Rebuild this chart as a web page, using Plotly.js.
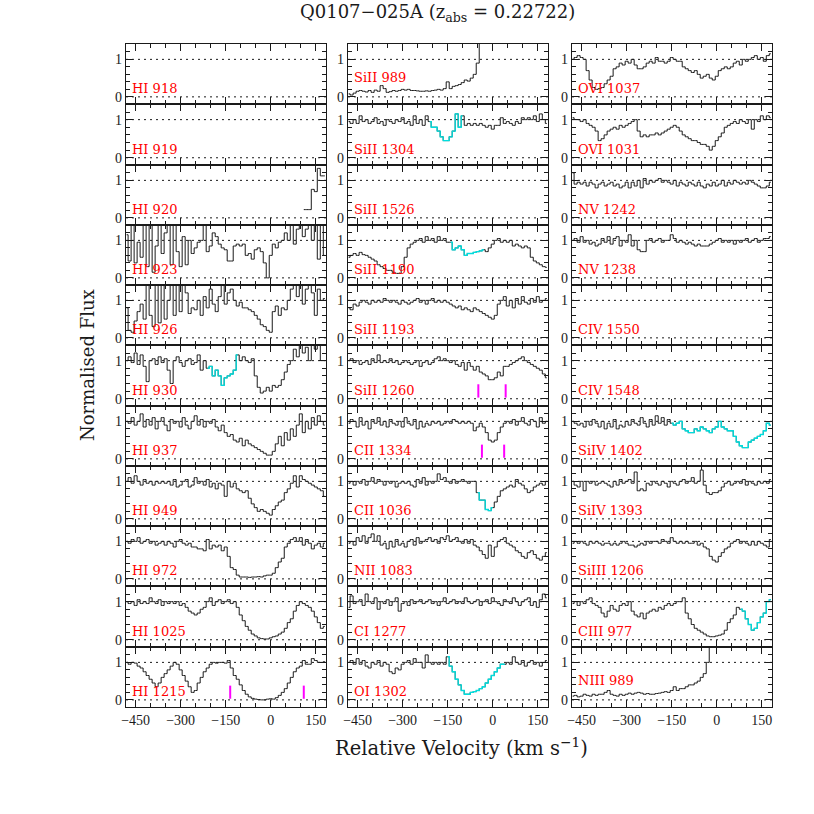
<!DOCTYPE html>
<html>
<head>
<meta charset="utf-8">
<script src="https://cdn.plot.ly/plotly-3.0.1.min.js"></script>
<style>body{margin:0;background:#fff}</style>
</head>
<body>
<div id="plot" style="width:814px;height:814px"></div>
<script>
// velocity bins (km/s) shared by every panel
var vel = [-480, -470, -460, -450, -440, -430, -420, -410, -400, -390,
           -380, -370, -360, -350, -340, -330, -320, -310, -300, -290,
           -280, -270, -260, -250, -240, -230, -220, -210, -200, -190,
           -180, -170, -160, -150, -140, -130, -120, -110, -100, -90,
           -80, -70, -60, -50, -40, -30, -20, -10, 0, 10,
           20, 30, 40, 50, 60, 70, 80, 90, 100, 110,
           120, 130, 140, 150, 160, 170, 180];

// HI 920 only has flux at the red end
var velHI920 = [110, 120, 130, 140, 150, 160, 170, 180];
var fHI920 = [0.22, 0.22, 0.22, 0.76, 0.7, 1.32, 1.12, 1.12];

var fHI923 = [1.15, 0.45, 1.5, 0.4, 0.95, 0.55, 1.5, 0.3, 1.5, 0.15,
              0.85, 1.5, 0.65, 1.2, 1.5, 0.35, 1.5, 0.7, 0.3, 1.1,
              0.35, 1.0, 0.65, 0.8, 0.95, 1.0, 1.5, 0.7, 0.85, 1.2,
              1.1, 0.9, 0.8, 0.75, 0.45, 0.45, 0.85, 0.9, 0.85, 0.9,
              0.6, 0.65, 0.5, 0.75, 0.8, 0.7, 0.4, 0.0, 0.6, 0.9,
              0.8, 0.95, 1.0, 1.2, 1.0, 1.4, 0.9, 1.3, 1.5, 1.1,
              1.3, 1.5, 1.0, 1.4, 0.5, 1.5, 0.6];
var fHI926 = [0.8, 0.2, 0.15, 0.45, 0.7, 0.9, 0.5, 1.5, 0.6, 0.3,
              1.5, 0.4, 1.5, 0.5, 1.0, 1.5, 0.6, 1.5, 0.7, 1.5,
              1.2, 0.65, 0.8, 0.75, 1.0, 0.6, 1.1, 0.8, 1.3, 0.9,
              0.7, 1.1, 1.4, 0.9, 1.2, 1.3, 1.0, 0.85, 0.95, 0.8,
              0.8, 0.75, 0.7, 0.6, 0.5, 0.35, 0.3, 0.2, 0.15, 0.7,
              0.85, 0.6, 0.8, 0.75, 1.0, 1.3, 1.5, 1.1, 1.4, 0.9,
              1.3, 1.5, 1.2, 0.6, 1.3, 1.0, 1.05];
var fHI930 = [1.0, 1.1, 0.95, 1.2, 0.9, 1.15, 0.85, 0.45, 1.0, 1.05,
              0.9, 1.1, 0.95, 1.05, 0.75, 0.4, 1.0, 1.1, 0.95, 0.85,
              1.0, 1.05, 0.9, 0.95, 1.15, 0.75, 1.0, 0.8, 0.85, 0.6,
              0.75, 0.6, 0.35, 0.55, 0.6, 0.65, 0.75, 1.15, 1.0, 1.1,
              1.0, 0.95, 1.05, 0.6, 0.3, 0.15, 0.2, 0.3, 0.2, 0.35,
              0.3, 0.35, 0.5, 0.7, 0.9, 1.0, 1.3, 1.1, 1.4, 1.2,
              1.35, 1.0, 1.4, 1.3, 1.4, 1.0, 1.0];
var fHI937 = [1.0, 0.95, 1.1, 0.9, 1.0, 1.2, 0.85, 1.05, 0.9, 1.1,
              0.8, 1.0, 1.1, 0.9, 0.75, 1.05, 0.95, 1.0, 0.85, 1.1,
              0.9, 0.8, 1.0, 1.15, 0.9, 1.05, 0.85, 1.0, 0.95, 1.05,
              0.85, 0.75, 0.9, 0.7, 0.6, 0.65, 0.5, 0.45, 0.55, 0.35,
              0.5, 0.4, 0.35, 0.3, 0.25, 0.2, 0.15, 0.1, 0.1, 0.2,
              0.4, 0.6, 0.35, 0.7, 0.5, 0.8, 0.6, 0.9, 1.2, 0.7,
              1.0, 0.8, 1.1, 0.9, 1.15, 1.0, 0.9];
var fHI949 = [1.0, 1.1, 0.95, 1.15, 1.0, 0.9, 1.05, 0.95, 1.0, 0.9,
              1.0, 0.95, 1.0, 0.95, 1.0, 0.9, 1.05, 0.85, 0.9, 1.0,
              1.05, 0.85, 0.9, 1.1, 0.95, 1.0, 0.9, 1.05, 0.85, 0.95,
              0.8, 0.95, 0.9, 0.6, 1.0, 0.85, 0.95, 0.8, 0.75, 0.7,
              0.75, 0.55, 0.4, 0.3, 0.2, 0.25, 0.2, 0.15, 0.1, 0.25,
              0.35, 0.45, 0.5, 0.7, 0.8, 0.95, 1.15, 0.85, 1.15, 1.05,
              1.0, 0.95, 0.9, 0.85, 0.8, 0.75, 0.6];
var fHI972 = [1.0, 0.95, 1.05, 1.0, 1.1, 0.95, 1.0, 1.05, 0.95, 1.0,
              0.9, 0.95, 1.0, 0.9, 1.0, 0.95, 0.85, 1.0, 1.05, 0.95,
              0.9, 0.95, 0.85, 0.85, 0.8, 0.8, 0.75, 1.05, 0.8, 0.9,
              0.85, 0.9, 0.75, 0.85, 0.6, 0.3, 0.25, 0.1, 0.05, 0.05,
              0.05, 0.04, 0.05, 0.05, 0.06, 0.05, 0.08, 0.1, 0.1, 0.15,
              0.3, 0.45, 0.55, 0.85, 0.95, 1.05, 1.1, 1.0, 1.1, 0.9,
              1.05, 0.95, 0.8, 0.9, 0.95, 0.85, 0.95];
var fHI1025 = [1.0, 0.95, 1.0, 0.9, 1.05, 0.95, 1.0, 0.95, 1.1, 1.0,
               0.95, 1.05, 0.9, 1.0, 0.95, 1.0, 0.95, 1.0, 0.9, 0.95,
               0.85, 0.75, 0.7, 0.65, 0.7, 0.8, 0.85, 1.0, 1.1, 0.9,
               1.0, 1.05, 0.95, 1.0, 1.05, 0.95, 1.0, 0.85, 0.65, 0.5,
               0.35, 0.25, 0.15, 0.1, 0.05, 0.03, 0.02, 0.02, 0.05, 0.08,
               0.1, 0.15, 0.2, 0.3, 0.45, 0.55, 0.75, 0.9, 1.0, 0.95,
               0.9, 0.85, 0.75, 0.6, 0.45, 0.3, 0.35];
var fHI1215 = [1.0, 0.95, 1.0, 0.98, 0.9, 0.85, 0.75, 0.65, 0.55, 0.45,
               0.35, 0.45, 0.6, 0.7, 0.8, 0.9, 1.0, 0.95, 0.8, 0.65,
               0.5, 0.35, 0.2, 0.25, 0.45, 0.6, 0.75, 0.85, 0.95, 1.0,
               0.98, 1.0, 1.0, 0.98, 1.05, 0.85, 0.65, 0.55, 0.4, 0.25,
               0.15, 0.08, 0.04, 0.02, 0.01, 0.0, 0.0, 0.02, 0.03, 0.02,
               0.06, 0.12, 0.2, 0.3, 0.45, 0.6, 0.75, 0.85, 0.9, 1.05,
               0.95, 0.95, 1.1, 1.05, 1.0, 1.0, 1.02];

var fSiII989 = [0.08, 0.05, 0.1, 0.15, 0.17, 0.15, 0.13, 0.17, 0.12, 0.18,
                0.15, 0.3, 0.22, 0.12, 0.14, 0.17, 0.15, 0.17, 0.2, 0.18,
                0.2, 0.17, 0.17, 0.16, 0.15, 0.15, 0.16, 0.15, 0.17, 0.18,
                0.2, 0.18, 0.22, 0.4, 0.22, 0.28, 0.3, 0.33, 0.38, 0.45,
                0.42, 0.5, 0.6, 0.9, 3, 3, 3, 3, 3, 3,
                3, 3, 3, 3, 3, 3, 3, 3, 3, 3,
                3, 3, 3, 3, 3, 3, 3];
var fSiII1304 = [0.95, 0.9, 1.0, 0.9, 1.1, 0.95, 1.0, 0.9, 0.95, 1.05,
                 0.9, 0.95, 0.85, 1.0, 0.95, 0.9, 1.0, 0.95, 1.05, 0.9,
                 0.95, 0.85, 1.1, 0.9, 1.0, 0.85, 1.1, 0.95, 0.8, 0.8,
                 0.7, 0.55, 0.45, 0.45, 0.55, 0.7, 1.15, 0.8, 1.1, 0.85,
                 0.9, 0.85, 0.9, 0.85, 0.9, 0.85, 0.8, 0.85, 0.75, 0.85,
                 0.85, 1.05, 0.9, 0.95, 0.9, 0.85, 0.95, 0.9, 1.05, 1.0,
                 1.05, 1.0, 1.1, 0.95, 1.15, 1.0, 0.9];
var fSiII1190 = [0.55, 0.6, 0.65, 0.6, 0.68, 0.62, 0.6, 0.55, 0.5, 0.45,
                 0.35, 0.3, 0.25, 0.2, 0.2, 0.15, 0.12, 0.12, 0.3, 0.55,
                 0.8, 0.9, 0.95, 1.0, 1.05, 0.95, 1.1, 1.0, 1.05, 0.95,
                 1.1, 1.0, 1.05, 0.95, 0.95, 0.75, 0.8, 0.85, 0.75, 0.6,
                 0.65, 0.65, 0.68, 0.7, 0.72, 0.75, 0.7, 0.8, 0.9, 1.0,
                 1.05, 0.95, 1.0, 0.95, 1.0, 0.85, 0.9, 0.85, 0.8, 0.85,
                 0.8, 0.55, 0.45, 0.4, 0.35, 0.3, 0.28];
var fSiII1193 = [0.8, 0.75, 0.9, 0.85, 0.95, 1.0, 0.95, 0.9, 1.0, 0.95,
                 1.0, 0.95, 1.05, 1.0, 0.95, 1.0, 0.95, 0.9, 1.0, 0.95,
                 0.9, 0.95, 1.0, 1.05, 0.95, 1.0, 0.9, 1.0, 1.05, 0.95,
                 1.0, 0.95, 1.0, 0.95, 0.9, 0.85, 0.8, 0.85, 0.75, 0.8,
                 0.75, 0.7, 0.8, 0.75, 0.7, 0.65, 0.6, 0.55, 0.5, 0.6,
                 0.9, 1.0, 1.1, 0.85, 1.0, 0.8, 1.05, 0.9, 1.1, 0.95,
                 0.9, 1.05, 0.95, 1.1, 0.95, 1.0, 1.05];
var fSiII1260 = [1.0, 1.05, 0.95, 1.0, 0.9, 0.95, 1.0, 0.9, 1.05, 0.95,
                 1.15, 0.95, 1.0, 0.95, 1.05, 0.95, 1.0, 0.9, 0.95, 1.0,
                 0.95, 0.9, 0.95, 1.0, 0.85, 0.95, 1.0, 0.9, 0.95, 1.05,
                 1.1, 1.0, 1.05, 1.0, 0.95, 1.0, 0.9, 0.85, 0.95, 0.75,
                 0.95, 0.85, 0.75, 0.85, 0.7, 0.65, 0.6, 0.5, 0.5, 0.55,
                 0.7, 0.6, 0.85, 0.85, 0.9, 0.95, 1.0, 1.05, 1.1, 1.0,
                 0.95, 0.9, 0.85, 0.8, 0.75, 0.65, 0.55];
var fCII1334 = [0.95, 1.05, 1.0, 0.85, 1.1, 0.9, 1.0, 0.8, 1.05, 0.95,
                1.1, 0.9, 1.0, 0.85, 1.05, 0.95, 0.9, 1.0, 0.85, 1.1,
                0.95, 0.9, 1.05, 0.8, 1.0, 0.85, 0.95, 0.9, 1.0, 0.95,
                1.0, 0.9, 0.95, 1.0, 0.95, 1.05, 1.0, 0.95, 1.0, 0.95,
                1.0, 0.95, 0.75, 0.85, 0.95, 0.85, 0.7, 0.5, 0.45, 0.5,
                0.7, 0.85, 0.95, 1.0, 0.95, 1.05, 0.9, 1.0, 1.1, 0.95,
                0.9, 1.05, 1.0, 0.85, 1.1, 0.95, 1.0];
var fCII1036 = [0.95, 1.0, 0.9, 1.0, 0.95, 1.05, 0.9, 1.0, 1.1, 0.95,
                1.05, 1.0, 0.9, 1.0, 0.95, 1.0, 0.85, 0.95, 1.0, 0.95,
                1.0, 0.9, 0.85, 1.05, 0.95, 1.1, 0.9, 1.0, 0.95, 1.0,
                1.2, 1.05, 1.1, 1.0, 0.95, 1.05, 0.95, 1.0, 1.05, 1.0,
                0.95, 1.0, 1.0, 0.7, 0.5, 0.5, 0.25, 0.22, 0.3, 0.45,
                0.6, 0.75, 0.8, 0.85, 0.9, 0.85, 1.05, 0.95, 0.9, 0.8,
                0.7, 0.75, 0.85, 0.9, 0.95, 0.9, 1.0];
var fNII1083 = [0.95, 1.0, 0.9, 1.1, 1.0, 1.15, 0.95, 1.1, 1.2, 1.0,
                1.15, 0.9, 0.95, 0.8, 1.0, 0.85, 1.05, 0.9, 0.95, 0.85,
                1.0, 1.05, 0.9, 1.1, 0.95, 1.0, 1.05, 1.1, 1.0, 1.05,
                0.95, 1.1, 1.05, 1.15, 1.0, 1.05, 1.1, 1.0, 0.95, 1.05,
                0.95, 1.05, 0.9, 0.85, 0.75, 0.65, 0.55, 0.9, 0.6, 0.85,
                1.0, 1.05, 1.1, 0.95, 0.9, 0.85, 0.75, 0.7, 0.6, 0.55,
                0.7, 0.75, 0.65, 0.55, 0.5, 0.6, 0.7];
var fCI1277 = [0.85, 1.15, 0.95, 1.0, 1.05, 0.9, 1.2, 1.0, 0.95, 1.1,
               0.8, 1.0, 0.95, 1.05, 0.9, 1.0, 1.1, 0.75, 0.95, 1.0,
               0.9, 1.05, 0.95, 1.0, 1.05, 0.95, 1.0, 1.05, 0.95, 1.0,
               0.9, 1.0, 1.1, 0.95, 1.0, 1.05, 0.95, 1.0, 0.95, 1.1,
               1.0, 0.95, 1.0, 1.05, 0.9, 1.0, 1.05, 0.95, 1.1, 1.0,
               0.95, 0.9, 1.05, 1.0, 0.95, 1.1, 1.0, 0.9, 1.0, 1.05,
               1.1, 0.9, 1.0, 0.85, 1.05, 1.2, 1.1];
var fOI1302 = [1.0, 1.05, 0.95, 1.1, 0.95, 1.05, 0.9, 0.85, 1.0, 0.95,
               1.05, 0.9, 1.0, 0.95, 0.75, 0.7, 0.85, 0.8, 0.95, 1.0,
               1.05, 0.95, 1.1, 1.0, 1.0, 0.85, 1.2, 1.0, 0.95, 1.0,
               0.95, 1.0, 0.95, 1.15, 0.9, 0.75, 0.55, 0.4, 0.25, 0.15,
               0.15, 0.2, 0.22, 0.25, 0.3, 0.35, 0.45, 0.55, 0.65, 0.75,
               0.85, 0.95, 0.95, 1.0, 0.95, 1.15, 1.0, 0.95, 1.05, 0.9,
               1.0, 1.05, 0.95, 1.0, 0.9, 1.0, 1.05];

var fOVI1037 = [1.0, 1.05, 1.1, 1.05, 1.0, 0.7, 0.45, 0.25, 0.2, 0.22,
                0.25, 0.35, 0.45, 0.55, 0.75, 0.8, 0.9, 0.85, 0.95, 0.9,
                1.0, 0.85, 0.75, 0.75, 0.8, 0.9, 0.95, 0.9, 1.05, 0.95,
                0.95, 0.9, 0.95, 1.05, 1.0, 0.95, 0.95, 0.8, 0.75, 0.7,
                0.65, 0.7, 0.6, 0.5, 0.55, 0.6, 0.5, 0.45, 0.55, 0.7,
                0.75, 0.8, 0.75, 0.8, 0.9, 0.95, 0.85, 1.0, 0.95, 1.0,
                1.05, 1.1, 1.0, 1.05, 0.95, 1.1, 1.15];
var fOVI1031 = [1.05, 1.0, 1.0, 0.95, 1.0, 0.9, 0.85, 0.8, 0.7, 0.45,
                0.5, 0.6, 0.7, 0.75, 0.8, 0.75, 0.85, 0.8, 0.85, 0.9,
                0.95, 1.0, 0.7, 0.55, 0.6, 0.55, 0.6, 0.6, 0.65, 0.6,
                0.65, 0.7, 0.75, 0.8, 0.85, 0.8, 0.7, 0.6, 0.55, 0.5,
                0.45, 0.45, 0.4, 0.35, 0.35, 0.3, 0.2, 0.3, 0.45, 0.55,
                0.65, 0.8, 0.85, 0.9, 0.95, 0.9, 1.0, 0.95, 0.9, 1.0,
                0.75, 1.0, 0.95, 1.1, 1.0, 1.1, 1.05];
var fNV1242 = [1.2, 0.9, 0.95, 0.9, 0.95, 0.85, 0.95, 0.9, 0.8, 0.9,
               0.95, 0.85, 0.9, 0.95, 0.85, 0.9, 0.8, 0.85, 0.95, 0.8,
               0.95, 0.85, 1.0, 0.8, 1.05, 0.9, 1.0, 0.95, 1.0, 1.05,
               0.95, 1.0, 0.95, 0.9, 1.0, 0.85, 0.95, 0.9, 0.85, 0.95,
               0.9, 0.85, 0.95, 0.85, 0.8, 0.9, 0.85, 0.95, 0.85, 0.9,
               1.0, 0.85, 0.95, 0.9, 1.0, 0.95, 0.9, 0.95, 0.9, 1.0,
               0.95, 0.9, 0.85, 0.8, 0.8, 0.85, 0.95];
var fNV1238 = [1.0, 1.05, 0.95, 1.1, 0.95, 1.0, 0.9, 0.95, 0.85, 0.9,
               1.05, 0.95, 1.1, 0.9, 1.05, 1.1, 0.85, 1.0, 0.95, 1.15,
               0.85, 1.0, 0.75, 0.7, 0.7, 1.0, 1.05, 0.95, 1.0, 1.05,
               0.95, 1.0, 1.0, 1.15, 1.05, 0.95, 1.0, 0.95, 0.9, 0.95,
               0.9, 0.85, 0.9, 0.85, 0.85, 0.85, 0.9, 0.95, 1.0, 1.05,
               0.95, 1.0, 0.95, 1.0, 0.9, 1.0, 0.95, 1.0, 1.05, 0.95,
               1.0, 1.05, 0.95, 1.0, 1.05, 1.05, 1.1];
var fSiIV1402 = [1.0, 0.95, 0.9, 0.95, 0.85, 1.0, 0.9, 1.05, 0.95, 0.85,
                 1.0, 0.8, 0.95, 0.85, 1.05, 0.8, 0.9, 0.85, 1.0, 0.9,
                 1.05, 0.95, 0.9, 1.1, 0.95, 0.85, 1.05, 0.9, 1.15, 0.95,
                 1.1, 0.9, 1.05, 0.95, 0.9, 0.95, 1.0, 0.8, 0.75, 0.7,
                 0.7, 0.8, 0.75, 0.85, 0.8, 0.75, 0.7, 0.8, 0.85, 1.0,
                 0.85, 0.8, 0.75, 0.75, 0.6, 0.45, 0.35, 0.3, 0.3, 0.45,
                 0.5, 0.55, 0.6, 0.65, 0.75, 0.95, 0.9];
var fSiIV1393 = [1.0, 0.9, 0.85, 1.0, 0.75, 1.0, 0.95, 1.0, 0.9, 0.95,
                 1.0, 0.95, 0.9, 0.85, 1.0, 0.9, 1.05, 0.95, 1.0, 1.05,
                 0.95, 1.25, 0.75, 0.8, 0.75, 0.95, 0.9, 1.0, 0.95, 0.9,
                 1.0, 0.95, 0.85, 1.0, 0.95, 0.9, 1.0, 1.05, 0.95, 1.0,
                 1.1, 0.95, 1.0, 1.3, 0.9, 0.7, 0.65, 0.7, 0.7, 0.75,
                 0.85, 0.95, 1.0, 0.9, 0.95, 1.0, 0.95, 1.05, 0.9, 1.0,
                 0.95, 0.9, 1.0, 0.95, 1.0, 0.95, 1.05];
var fSiIII1206 = [0.95, 1.0, 0.95, 1.0, 0.95, 0.9, 1.0, 0.95, 1.0, 0.95,
                  0.9, 0.95, 0.95, 0.9, 0.95, 0.9, 0.95, 1.0, 0.95, 0.9,
                  0.9, 0.85, 0.9, 0.95, 0.9, 1.0, 0.95, 1.0, 1.0, 0.95,
                  1.05, 1.0, 0.95, 1.1, 1.0, 0.95, 1.0, 0.95, 1.0, 0.95,
                  0.95, 1.0, 0.9, 0.95, 0.85, 0.8, 0.6, 0.5, 0.45, 0.6,
                  0.7, 0.8, 0.85, 0.95, 1.0, 1.05, 0.95, 1.0, 0.95, 0.9,
                  1.0, 0.9, 1.0, 0.95, 0.9, 0.85, 1.05];
var fCIII977 = [0.95, 1.0, 0.9, 1.0, 0.95, 1.05, 1.1, 0.95, 0.9, 0.85,
                0.7, 0.6, 0.75, 0.9, 0.8, 0.75, 0.9, 0.95, 0.9, 1.0,
                0.75, 0.65, 0.6, 0.7, 0.55, 0.7, 0.75, 0.8, 0.75, 0.85,
                0.8, 0.9, 0.95, 0.9, 0.95, 1.0, 1.0, 1.1, 0.7, 0.55,
                0.4, 0.3, 0.25, 0.2, 0.15, 0.1, 0.08, 0.08, 0.1, 0.12,
                0.15, 0.25, 0.45, 0.55, 0.65, 0.85, 0.8, 0.75, 0.55, 0.4,
                0.25, 0.3, 0.45, 0.6, 0.7, 1.0, 1.05];
var fNIII989 = [0.1, 0.12, 0.08, 0.1, 0.15, 0.12, 0.1, 0.15, 0.12, 0.15,
                0.15, 0.2, 0.25, 0.15, 0.12, 0.1, 0.15, 0.12, 0.15, 0.18,
                0.15, 0.18, 0.2, 0.18, 0.15, 0.17, 0.15, 0.15, 0.17, 0.18,
                0.2, 0.22, 0.2, 0.25, 0.35, 0.25, 0.3, 0.3, 0.35, 0.4,
                0.4, 0.45, 0.5, 0.6, 0.7, 1.0, 3, 3, 3, 3,
                3, 3, 3, 3, 3, 3, 3, 3, 3, 3,
                3, 3, 3, 3, 3, 3, 3];

// panel labels, column by column, top to bottom
var labels = ['HI 918', 'HI 919', 'HI 920', 'HI 923', 'HI 926', 'HI 930', 'HI 937', 'HI 949', 'HI 972', 'HI 1025', 'HI 1215',
              'SiII 989', 'SiII 1304', 'SiII 1526', 'SiII 1190', 'SiII 1193', 'SiII 1260', 'CII 1334', 'CII 1036', 'NII 1083', 'CI 1277', 'OI 1302',
              'OVI 1037', 'OVI 1031', 'NV 1242', 'NV 1238', 'CIV 1550', 'CIV 1548', 'SiIV 1402', 'SiIV 1393', 'SiIII 1206', 'CIII 977', 'NIII 989'];
var fluxes = [null, null, fHI920, fHI923, fHI926, fHI930, fHI937, fHI949, fHI972, fHI1025, fHI1215,
              fSiII989, fSiII1304, null, fSiII1190, fSiII1193, fSiII1260, fCII1334, fCII1036, fNII1083, fCI1277, fOI1302,
              fOVI1037, fOVI1031, fNV1242, fNV1238, null, null, fSiIV1402, fSiIV1393, fSiIII1206, fCIII977, fNIII989];

// velocity windows drawn in cyan
var cyanLabel = ['HI 930', 'SiII 1304', 'SiII 1190', 'CII 1036', 'OI 1302', 'SiIV 1402', 'CIII 977'];
var cyanFrom = [-210, -210, -140, -50, -150, -150, 80];
var cyanTo = [-110, -100, -30, 0, 40, 180, 180];

// component markers (magenta ticks)
var markLabel = ['HI 1215', 'HI 1215', 'SiII 1260', 'SiII 1260', 'CII 1334', 'CII 1334'];
var markVel = [-135, 110, -48, 43, -36, 38];

var W = 814, H = 814;
var colLeft = [126, 348, 572], colRight = [326, 548, 772];
var top0 = 44, rowH = 60.27;
var xr = [-482, 184], yr = [-0.19, 1.41];
var FONT = 'Liberation Serif, Times New Roman, serif';
var TFONT = 'DejaVu Serif, serif';
var INK = '#1a1a1a';
// labels lifted above low-lying flux
var raised = ['SiII 989', 'NIII 989'];

var data = [], shapes = [], annotations = [];
var layout = {
  width: W, height: H,
  margin: {l: 0, r: 0, t: 0, b: 0},
  paper_bgcolor: '#fff', plot_bgcolor: '#fff',
  showlegend: false,
  font: {family: FONT, color: INK}
};

labels.forEach(function (lab, k) {
  var col = Math.floor(k / 11), row = k % 11;
  var n = k + 1, sfx = n === 1 ? '' : String(n);
  var xa = 'x' + sfx, ya = 'y' + sfx;
  var yTop = Math.round(top0 + row * rowH), yBot = Math.round(top0 + (row + 1) * rowH);

  layout['xaxis' + sfx] = {
    domain: [colLeft[col] / W, colRight[col] / W], anchor: ya,
    range: xr, showgrid: false, zeroline: false,
    showline: true, linecolor: INK, linewidth: 1.2, mirror: 'allticks',
    ticks: 'inside', ticklen: 7, tickwidth: 1, tickcolor: INK,
    tick0: 0, dtick: 150,
    minor: {tick0: 0, dtick: 50, ticks: 'inside', ticklen: 4, tickwidth: 1, tickcolor: INK, showgrid: false},
    showticklabels: row === 10,
    tickfont: {family: FONT, size: 14, color: INK}
  };
  layout['yaxis' + sfx] = {
    domain: [1 - yBot / H, 1 - yTop / H], anchor: xa,
    range: yr, showgrid: false, zeroline: false,
    showline: true, linecolor: INK, linewidth: 1.2, mirror: 'allticks',
    ticks: 'inside', ticklen: 7, tickwidth: 1, tickcolor: INK,
    tick0: 0, dtick: 1,
    minor: {tick0: 0, dtick: 0.2, ticks: 'inside', ticklen: 4, tickwidth: 1, tickcolor: INK, showgrid: false},
    tickfont: {family: FONT, size: 14, color: INK}
  };

  // dotted continuum and zero levels
  [0, 1].forEach(function (lv) {
    shapes.push({type: 'line', xref: xa + ' domain', yref: ya, x0: 0, x1: 1, y0: lv, y1: lv,
                 line: {color: INK, width: 1, dash: '2px,4px'}, layer: 'below'});
  });

  annotations.push({xref: xa, yref: ya, x: -468, y: raised.indexOf(lab) >= 0 ? 0.52 : 0.22,
                    xanchor: 'left', yanchor: 'middle',
                    text: lab, showarrow: false, font: {family: TFONT, size: 13, color: '#ff0000'}});

  var f = fluxes[k];
  if (f) {
    var xs = lab === 'HI 920' ? velHI920 : vel;
    data.push({type: 'scatter', mode: 'lines', x: xs, y: f, xaxis: xa, yaxis: ya,
               line: {color: INK, width: 1, shape: 'hvh'}, hoverinfo: 'skip'});
    var c = cyanLabel.indexOf(lab);
    if (c >= 0) {
      var cy = f.map(function (v, i) { return (xs[i] >= cyanFrom[c] && xs[i] <= cyanTo[c]) ? v : null; });
      data.push({type: 'scatter', mode: 'lines', x: xs, y: cy, xaxis: xa, yaxis: ya,
                 line: {color: '#00dede', width: 1.3, shape: 'hvh'}, hoverinfo: 'skip'});
    }
  }

  markLabel.forEach(function (ml, j) {
    if (ml === lab) {
      data.push({type: 'scatter', mode: 'lines', x: [markVel[j], markVel[j]], y: [0.03, 0.38],
                 xaxis: xa, yaxis: ya, line: {color: '#ff00ff', width: 2}, hoverinfo: 'skip'});
    }
  });
});

annotations.push({xref: 'paper', yref: 'paper', x: 437 / W, y: 1 - 13 / H, xanchor: 'center', yanchor: 'middle',
                  text: 'Q0107\u2212025A (z<sub>abs</sub> = 0.22722)', showarrow: false,
                  font: {family: TFONT, size: 18, color: INK}});
annotations.push({xref: 'paper', yref: 'paper', x: 461 / W, y: 1 - 747 / H, xanchor: 'center', yanchor: 'middle',
                  text: 'Relative Velocity (km s<sup>\u22121</sup>)', showarrow: false,
                  font: {family: TFONT, size: 19.5, color: INK}});
annotations.push({xref: 'paper', yref: 'paper', x: 88 / W, y: 1 - 365 / H, xanchor: 'center', yanchor: 'middle',
                  text: 'Normalised Flux', textangle: -90, showarrow: false,
                  font: {family: TFONT, size: 18, color: INK}});

layout.shapes = shapes;
layout.annotations = annotations;

Plotly.newPlot('plot', data, layout, {displayModeBar: false, staticPlot: true});
</script>
</body>
</html>
